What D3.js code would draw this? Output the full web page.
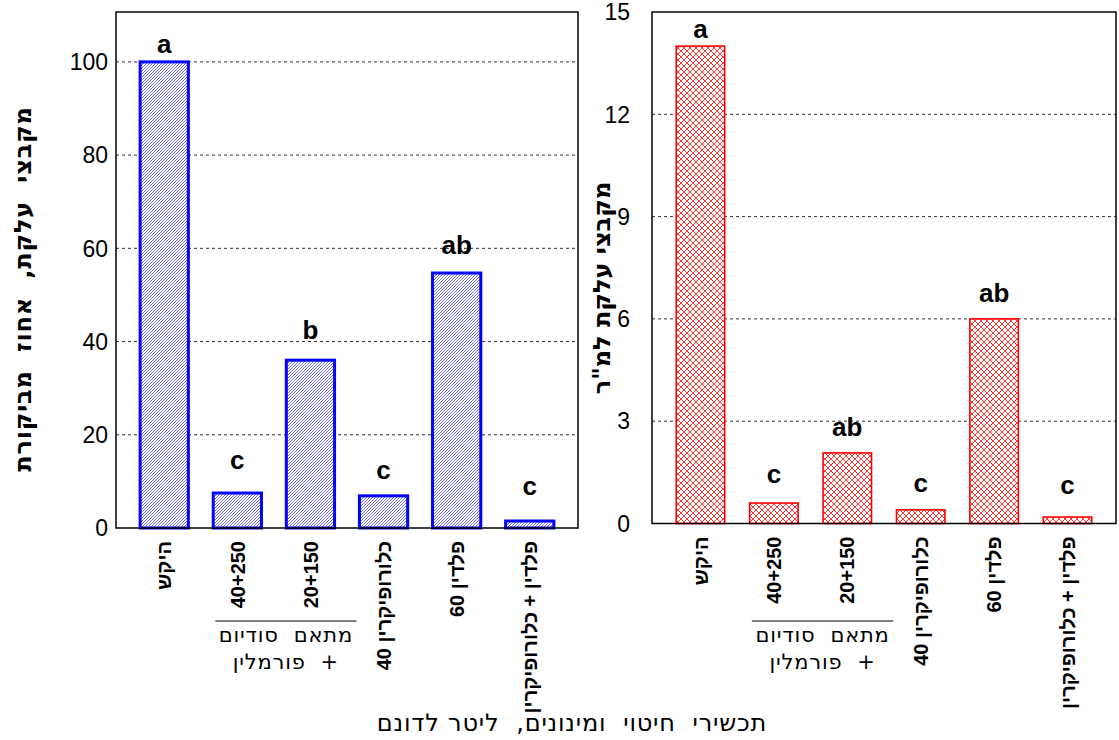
<!DOCTYPE html>
<html><head><meta charset="utf-8">
<script src="https://cdn.jsdelivr.net/npm/d3@7"></script>
<style>
body{margin:0;background:#fff}
svg{display:block}
text{font-family:"Liberation Sans",Arial,"DejaVu Sans",sans-serif;fill:#000;white-space:pre}
.heb{font-family:"DejaVu Sans","Liberation Sans",sans-serif}
</style>
</head><body>
<svg id="chart" width="1119" height="740"></svg>
<script>
// ---------- data ----------
const categories = ["היקש", "40+250", "20+150", "כלורופיקרין 40", "פלדין 60", "פלדין + כלורופיקרין"];
const percentValues = [100, 7.5, 36, 6.9, 54.7, 1.5];
const percentLetters = ["a", "c", "b", "c", "ab", "c"];
const percentLetterAt = [101.9, 12.7, 40.6, 10.5, 58.8, 7.1];
const percentTicks = [0, 20, 40, 60, 80, 100];
const densityValues = [14, 0.6, 2.07, 0.4, 6.0, 0.19];
const densityLetters = ["a", "c", "ab", "c", "ab", "c"];
const densityLetterAt = [14.24, 1.19, 2.57, 0.92, 6.5, 0.87];
const densityTicks = [0, 3, 6, 9, 12, 15];
const groupLines = ["מתאם  סודיום", "+  פורמלין"];
const yTitles = ["מקבצי  עלקת,  אחוז  מביקורת", "מקבצי עלקת למ\"ר"];
const xTitle = "תכשירי  חיטוי  ומינונים,  ליטר לדונם";

// ---------- drawing ----------
const svg = d3.select("#chart");
const defs = svg.append("defs");

const pb = defs.append("pattern").attr("id", "hatchBlue")
  .attr("patternUnits", "userSpaceOnUse").attr("width", 3).attr("height", 3);
pb.append("rect").attr("width", 3).attr("height", 3).attr("fill", "#fff");
pb.append("path").attr("d", "M-1,1 l2,-2 M0,3 l3,-3 M2,4 l2,-2")
  .attr("stroke", "#3030ff").attr("stroke-width", 0.7);

const pr = defs.append("pattern").attr("id", "hatchRed")
  .attr("patternUnits", "userSpaceOnUse").attr("width", 6).attr("height", 6);
pr.append("rect").attr("width", 6).attr("height", 6).attr("fill", "#fff");
pr.append("path").attr("d", "M0,0 L6,6 M6,0 L0,6")
  .attr("stroke", "#ff2020").attr("stroke-width", 0.9);

const panels = [
  {x0: 116, x1: 578, y0: 12, y1: 528, max: 110.7, values: percentValues, letters: percentLetters,
   letterAt: percentLetterAt, ticks: percentTicks, fill: "url(#hatchBlue)", stroke: "#0000ff", sw: 3,
   labelX: 108, titleX: 22, titleY: 289, title: yTitles[0], titleSpacing: 0.8},
  {x0: 652, x1: 1116, y0: 12, y1: 523.5, max: 15, values: densityValues, letters: densityLetters,
   letterAt: densityLetterAt, ticks: densityTicks, fill: "url(#hatchRed)", stroke: "#ff0000", sw: 1.6,
   labelX: 630, titleX: 601, titleY: 288, title: yTitles[1], titleSpacing: 0}
];

panels.forEach(p => {
  const g = svg.append("g");
  const x = d3.scaleBand().domain(categories).range([p.x0, p.x1]).paddingInner(0.34).paddingOuter(0.33);
  const y = d3.scaleLinear().domain([0, p.max]).range([p.y1, p.y0]);

  // gridlines
  g.selectAll(".grid").data(p.ticks.filter(t => t > 0 && y(t) > p.y0 + 2)).join("line")
    .attr("x1", p.x0).attr("x2", p.x1).attr("y1", d => y(d)).attr("y2", d => y(d))
    .attr("stroke", "#333").attr("stroke-width", 1).attr("stroke-dasharray", "3,3");

  // y tick labels
  g.selectAll(".yl").data(p.ticks).join("text")
    .attr("x", p.labelX).attr("y", d => y(d)).attr("dy", "0.36em")
    .attr("text-anchor", "end").attr("font-size", 23).text(d => d);

  // bars
  g.selectAll(".bar").data(p.values).join("rect")
    .attr("x", (d, i) => x(categories[i])).attr("width", x.bandwidth())
    .attr("y", d => y(d)).attr("height", d => y(0) - y(d))
    .attr("fill", p.fill).attr("stroke", p.stroke).attr("stroke-width", p.sw);

  // significance letters
  g.selectAll(".let").data(p.letters).join("text")
    .attr("x", (d, i) => x(categories[i]) + x.bandwidth() / 2)
    .attr("y", (d, i) => y(p.letterAt[i]))
    .attr("text-anchor", "middle").attr("font-size", 26).attr("font-weight", "bold").text(d => d);

  // frame
  g.append("rect").attr("x", p.x0).attr("y", p.y0).attr("width", p.x1 - p.x0).attr("height", p.y1 - p.y0)
    .attr("fill", "none").attr("stroke", "#000").attr("stroke-width", 1.5);

  // x tick labels (rotated)
  g.selectAll(".xl").data(categories).join("text")
    .attr("transform", d => `translate(${x(d) + x.bandwidth() / 2},${p.y1 + 13}) rotate(-90)`)
    .attr("dy", "0.36em").attr("text-anchor", "end")
    .attr("font-size", 20).attr("font-weight", "bold").text(d => d);

  // group bracket under categories 2 & 3
  const c2 = x(categories[1]) + x.bandwidth() / 2, c3 = x(categories[2]) + x.bandwidth() / 2;
  const lx0 = c2 - 22, lx1 = c3 + 46, ly = 621;
  g.append("line").attr("x1", lx0).attr("x2", lx1).attr("y1", ly).attr("y2", ly)
    .attr("stroke", "#000").attr("stroke-width", 1.2);
  g.selectAll(".gl").data(groupLines).join("text").attr("class", "heb")
    .attr("x", (lx0 + lx1) / 2).attr("y", (d, i) => ly + 21 + i * 27)
    .attr("direction", "rtl").attr("text-anchor", "middle").attr("font-size", 21)
    .attr("letter-spacing", 0.8).text(d => d);

  // y title
  g.append("text").attr("class", "heb").attr("transform", `translate(${p.titleX},${p.titleY}) rotate(-90)`)
    .attr("dy", "0.36em").attr("text-anchor", "middle").attr("font-size", 24).attr("font-weight", "bold")
    .attr("letter-spacing", p.titleSpacing).text(p.title);
});

svg.append("text").attr("class", "heb").attr("x", 572).attr("y", 731).attr("direction", "rtl")
  .attr("text-anchor", "middle").attr("font-size", 24).attr("letter-spacing", 0.8).text(xTitle);
</script>
</body></html>
